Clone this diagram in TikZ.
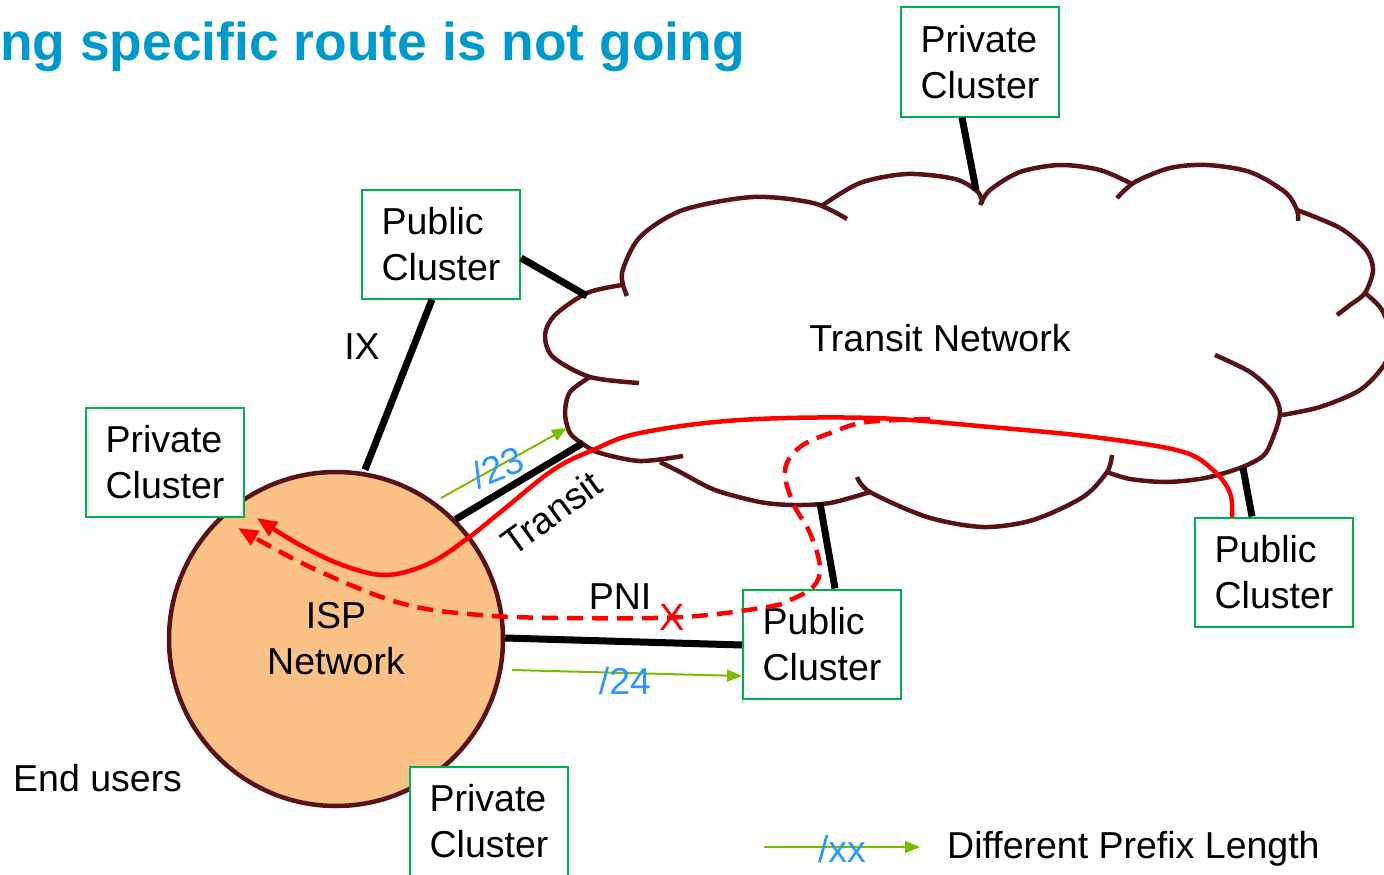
\documentclass[tikz,border=0pt]{standalone}
\usepackage{fontspec}
\setmainfont{Liberation Sans}
\usetikzlibrary{arrows.meta,calc}
\definecolor{titleblue}{RGB}{0,153,204}
\definecolor{boxgreen}{RGB}{0,176,80}
\definecolor{arrgreen}{RGB}{122,188,0}
\definecolor{lblblue}{RGB}{45,150,255}
\definecolor{cloudc}{RGB}{88,18,22}
\definecolor{ispfill}{RGB}{251,193,135}
\tikzset{
  every node/.style={font=\fontsize{37.5}{46}\selectfont},
  clusterbox/.style={draw=boxgreen,line width=2pt,fill=white,minimum width=158pt,minimum height=109pt,align=left,inner sep=0pt},
  link/.style={line width=7pt,black},
  cloudline/.style={draw=cloudc,line width=4.5pt},
  pfx/.style={draw=arrgreen,line width=2pt,-{Triangle[length=15pt,width=12pt]}},
  pfxlbl/.style={text=lblblue,inner sep=0pt},
  route/.style={draw=red,line width=4.5pt,-{Triangle[length=20pt,width=16pt]}},
  lbl/.style={inner sep=0pt}
}
\begin{document}
\begin{tikzpicture}[x=1pt,y=-1pt]
\useasboundingbox (0,0) rectangle (1384,875);
\begin{scope}
\clip (0,0) rectangle (1384,875);
% title
\node[anchor=base west,inner sep=0pt,text=titleblue,font=\fontsize{53.4}{60}\selectfont\bfseries] (title) at (0,60) {ng specific route is not going};

% cloud lobes
\draw[cloudline] plot[smooth] coordinates {(622,285) (587,293) (555,315) (545,335) (553,357) (590,377) (639,383)};
\draw[cloudline] plot[smooth] coordinates {(627,296) (622,273) (640,237) (683,210) (753,197) (813,203) (847,219)};
\draw[cloudline] plot[smooth] coordinates {(823,205) (860,183) (907,174) (955,179) (978,192) (982,204)};
\draw[cloudline] plot[smooth] coordinates {(980,205) (990,190) (1020,172) (1060,165) (1100,170) (1132,184)};
\draw[cloudline] plot[smooth] coordinates {(1117,198) (1135,182) (1170,168) (1207,165) (1250,172) (1285,192) (1297,210) (1298,221)};
\draw[cloudline] plot[smooth] coordinates {(1297,210) (1340,228) (1366,250) (1373,270) (1365,293) (1350,305) (1337,315)};
\draw[cloudline] plot[smooth] coordinates {(1365,293) (1382,310) (1392,340) (1384,365) (1360,390) (1320,407) (1282,415)};
\draw[cloudline] plot[smooth] coordinates {(1215,355) (1250,372) (1272,392) (1280,413) (1272,440) (1263,456) (1240,468) (1205,478) (1167,482) (1130,479) (1107,472)};
\draw[cloudline] plot[smooth] coordinates {(1112,455) (1107,472) (1083,497) (1033,520) (983,527) (927,517) (870,492) (857,477)};
\draw[cloudline] plot[smooth] coordinates {(870,492) (830,503) (793,505) (760,502) (715,490) (680,472) (660,462)};
\draw[cloudline] plot[smooth] coordinates {(590,377) (570,392) (565,413) (570,433) (583,444) (600,453) (640,461) (683,456)};
\node[lbl] (transit) at (940,338) {Transit Network};

% ISP
\node[circle,draw=cloudc,line width=4.5pt,fill=ispfill,minimum size=334pt,inner sep=0pt,align=center] (isp) at (336,639) {ISP\\Network};

% clusters
\node[clusterbox] (tpriv) at (980,62) {Private\\Cluster};
\node[clusterbox] (upub) at (441,244) {Public\\Cluster};
\node[clusterbox] (lpriv) at (165,462) {Private\\Cluster};
\node[clusterbox] (mpub) at (822,644) {Public\\Cluster};
\node[clusterbox] (rpub) at (1274,572) {Public\\Cluster};
\node[clusterbox] (bpriv) at (489,821) {Private\\Cluster};

% cloud attachment points
\coordinate (cTop) at (976,190);
\coordinate (cUL) at (587,296);
\coordinate (cL) at (583,443);
\coordinate (cB) at (820,503);
\coordinate (cR) at (1243,468);

% links
\draw[link] (tpriv.south -| 962,0) -- (cTop);
\draw[link] (upub.east |- 0,258) -- (cUL);
\draw[link] (upub.south -| 432,0) -- (isp.north -| 365,0) coordinate (ixend);
\draw[link] (isp.45) -- (cL);
\draw[link] (isp.east |- 0,638) -- (mpub.west |- 0,645);
\draw[link] (mpub.north -| 835,0) -- (cB);
\draw[link] (rpub.north -| 1252,0) -- (cR);
\node[lbl] (ix) at (362,347) {IX};
\node[lbl,rotate=36] (tr) at (551,513) {Transit};
\node[lbl] (pni) at (620,597) {PNI};

% prefix arrows
\coordinate (g23s) at (441,498);
\coordinate (g23e) at (567,428);
\draw[pfx] (g23s) -- (g23e);
\node[pfxlbl,rotate=22] (l23) at (498,467) {/23};
\coordinate (g24s) at (512,670);
\draw[pfx] (g24s) -- (mpub.west |- 0,676);
\node[pfxlbl] (l24) at (625,681) {/24};

% routes
\coordinate (rs) at (1232,517);
\coordinate (rsend) at (257,518);
\draw[route] plot[smooth,tension=0.6] coordinates {(rs) (1230,493) (1213,470) (1180,451) (1093,437) (990,427) (873,418) (740,420) (640,433) (593,450) (553,470) (503,510) (468,538) (430,563) (387,575) (345,566) (300,545) (rsend)};
\coordinate (ds) at (930,419);
\coordinate (dsend) at (238,528);
\draw[route,dashed,dash pattern=on 16pt off 9pt] plot[smooth,tension=0.6] coordinates {(ds) (867,422) (833,432) (800,447) (785,470) (793,503) (810,533) (820,567) (813,587) (790,600) (767,607) (683,617) (567,618) (480,615) (400,603) (310,567) (dsend)};
\node[lbl,text=red,font=\fontsize{38}{40}\selectfont] (xmark) at (672,617) {X};

% end users
\node[lbl,anchor=west] (eu) at (13,778) {End users};

% legend
\coordinate (legs) at (764,847);
\coordinate (lege) at (920,847);
\draw[pfx] (legs) -- (lege);
\node[pfxlbl] (lxx) at (842,849) {/xx};
\node[lbl,anchor=west] (legt) at (947,849) {Different Prefix Length};
\end{scope}
\end{tikzpicture}
\end{document}
